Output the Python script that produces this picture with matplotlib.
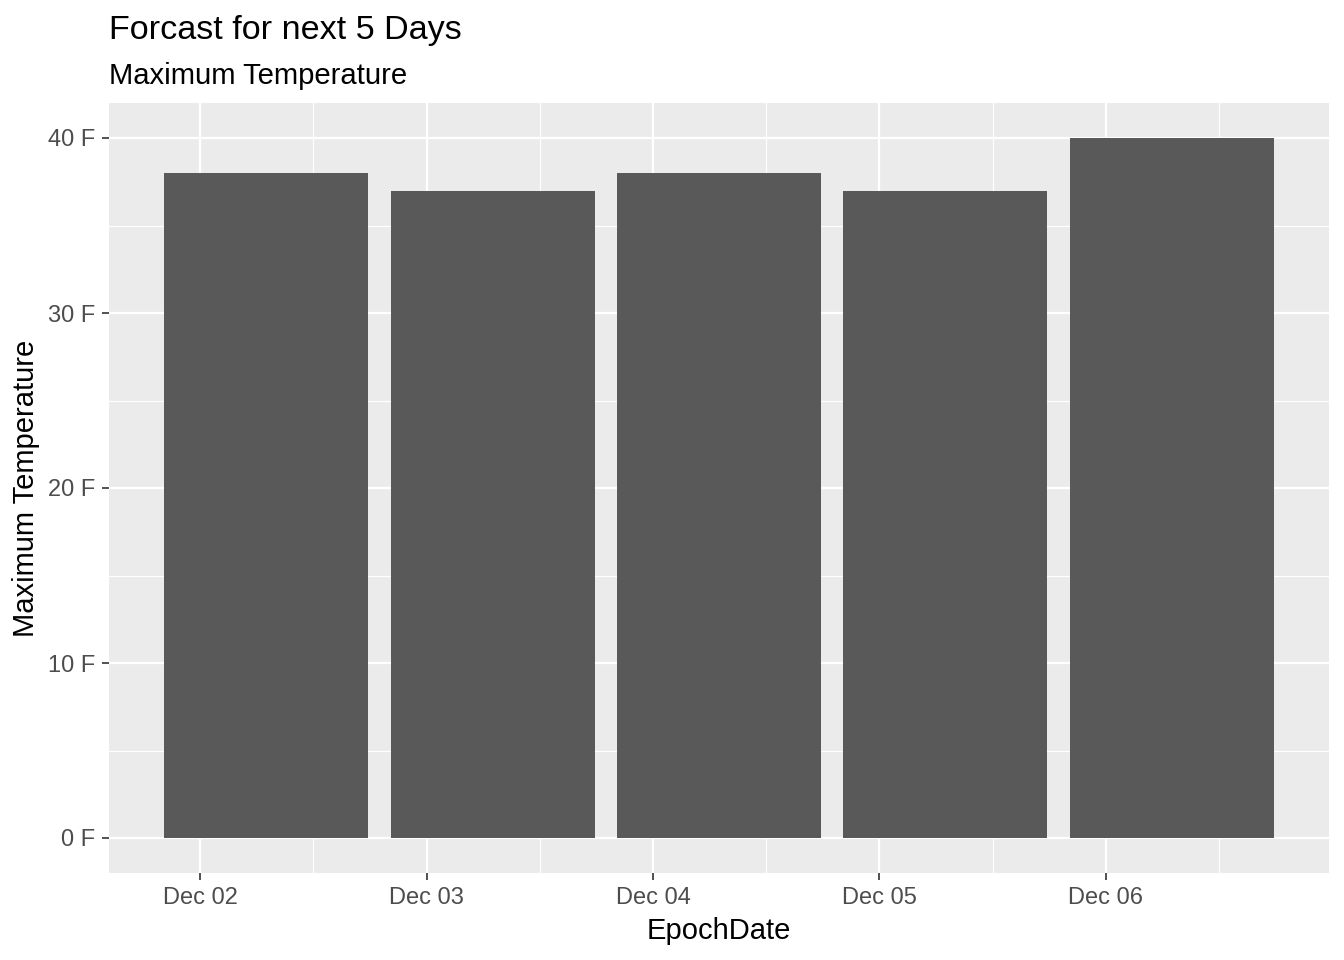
import matplotlib
matplotlib.use("Agg")
import matplotlib.pyplot as plt
import matplotlib.dates as mdates
import pandas as pd

plt.rcParams['font.family'] = ['Liberation Sans', 'DejaVu Sans']

# forecast data
epoch_dates = pd.to_datetime(["2020-12-02 07:00", "2020-12-03 07:00", "2020-12-04 07:00",
                              "2020-12-05 07:00", "2020-12-06 07:00"])
max_temp = [38, 37, 38, 37, 40]
y_ticks = [0, 10, 20, 30, 40]
y_labels = ["0 F", "10 F", "20 F", "30 F", "40 F"]

fig = plt.figure(figsize=(13.44, 9.6), dpi=100)
ax = fig.add_axes([109/1344, 87/960, 1220/1344, 770/960])
ax.set_facecolor("#EBEBEB")

ax.bar(epoch_dates, max_temp, width=0.9, color="#595959", zorder=3)

ax.xaxis.set_major_locator(mdates.DayLocator())
ax.xaxis.set_major_formatter(mdates.DateFormatter("%b %d"))
ax.xaxis.set_minor_locator(mdates.HourLocator(byhour=12))
ax.set_yticks(y_ticks)
ax.set_yticklabels(y_labels)
ax.set_yticks([5, 15, 25, 35], minor=True)

# ggplot-like expansion
left = mdates.date2num(epoch_dates[0]) - 0.45
right = mdates.date2num(epoch_dates[-1]) + 0.45
pad = (right - left) * 0.05
ax.set_xlim(left - pad, right + pad)
ax.set_ylim(-2, 42)

ax.grid(which="major", color="white", linewidth=1.6, zorder=0)
ax.grid(which="minor", color="white", linewidth=0.8, zorder=0)
for s in ax.spines.values():
    s.set_visible(False)
ax.tick_params(which="major", length=5, width=1.2, color="#333333", labelcolor="#4D4D4D",
               labelsize=17, pad=5)
ax.tick_params(which="minor", length=0)

ax.set_xlabel("EpochDate", fontsize=21, labelpad=6)
ax.set_ylabel("Maximum Temperature", fontsize=21, labelpad=6)
fig.text(109/1344, 1 - 31/960, "Forcast for next 5 Days", fontsize=24.6, va="center")
fig.text(109/1344, 1 - 76/960, "Maximum Temperature", fontsize=21.1, va="center")

fig.savefig("out.png", dpi=100)
